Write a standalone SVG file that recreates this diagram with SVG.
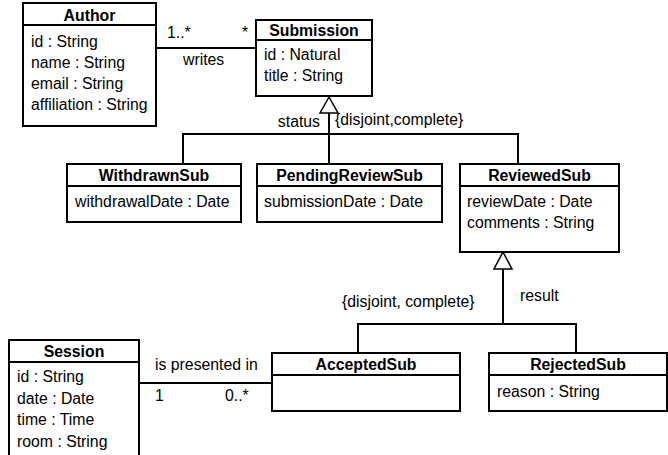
<svg xmlns="http://www.w3.org/2000/svg" width="668" height="455" viewBox="0 0 668 455">
<style>
.box{fill:#fff;stroke:#000;stroke-width:2}
.sep{stroke:#000;stroke-width:2}
.t{font-family:"Liberation Sans",Arial,sans-serif;font-size:15.8px;fill:#000}
.b{font-weight:bold;text-anchor:middle}
.ln{fill:none;stroke:#000;stroke-width:2}
.tri{fill:#fff;stroke:#000;stroke-width:1.5}
</style>
<rect width="668" height="455" fill="#fff"/>
<g id="connectors">
<line class="ln" x1="156" y1="48" x2="256" y2="48"/>
<text class="t" x="167" y="38">1..*</text>
<text class="t" x="242" y="38">*</text>
<text class="t" x="183" y="65">writes</text>
<polyline class="ln" points="183,164 183,134 518,134 518,164"/>
<line class="ln" x1="329" y1="112" x2="329" y2="164"/>
<polygon class="tri" points="329,97 320,113 338,113"/>
<text class="t" x="320" y="127" text-anchor="end">status</text>
<text class="t" x="335" y="125">{disjoint,complete}</text>
<polyline class="ln" points="358,353 358,324 576,324 576,353"/>
<line class="ln" x1="503" y1="268" x2="503" y2="324"/>
<polygon class="tri" points="503,252 494,269 512,269"/>
<text class="t" x="342" y="307">{disjoint, complete}</text>
<text class="t" x="520" y="301">result</text>
<line class="ln" x1="139" y1="383" x2="272" y2="383"/>
<text class="t" x="155" y="370">is presented in</text>
<text class="t" x="155" y="401">1</text>
<text class="t" x="225" y="401">0..*</text>
</g>
<g id="Author">
<rect class="box" x="23" y="3" width="133" height="123"/>
<line class="sep" x1="23" y1="25" x2="156" y2="25"/>
<text class="t b" x="89.5" y="21">Author</text>
<text class="t" x="31" y="47">id : String</text>
<text class="t" x="31" y="68">name : String</text>
<text class="t" x="31" y="89">email : String</text>
<text class="t" x="31" y="110">affiliation : String</text>
</g>
<g id="Submission">
<rect class="box" x="256" y="20" width="116" height="76"/>
<line class="sep" x1="256" y1="40" x2="372" y2="40"/>
<text class="t b" x="314" y="36">Submission</text>
<text class="t" x="264" y="60">id : Natural</text>
<text class="t" x="264" y="81">title : String</text>
</g>
<g id="WithdrawnSub">
<rect class="box" x="67" y="164" width="174" height="58"/>
<line class="sep" x1="67" y1="186" x2="241" y2="186"/>
<text class="t b" x="154" y="181">WithdrawnSub</text>
<text class="t" x="75" y="207">withdrawalDate : Date</text>
</g>
<g id="PendingReviewSub">
<rect class="box" x="257" y="164" width="185" height="58"/>
<line class="sep" x1="257" y1="186" x2="442" y2="186"/>
<text class="t b" x="349.5" y="181">PendingReviewSub</text>
<text class="t" x="264" y="207">submissionDate : Date</text>
</g>
<g id="ReviewedSub">
<rect class="box" x="460" y="164" width="159" height="88"/>
<line class="sep" x1="460" y1="186" x2="619" y2="186"/>
<text class="t b" x="539.5" y="181">ReviewedSub</text>
<text class="t" x="467" y="207">reviewDate : Date</text>
<text class="t" x="467" y="228">comments : String</text>
</g>
<g id="Session">
<rect class="box" x="9" y="340" width="130" height="116"/>
<line class="sep" x1="9" y1="362" x2="139" y2="362"/>
<text class="t b" x="74" y="357">Session</text>
<text class="t" x="17" y="382">id : String</text>
<text class="t" x="17" y="404">date : Date</text>
<text class="t" x="17" y="425">time : Time</text>
<text class="t" x="17" y="447">room : String</text>
</g>
<g id="AcceptedSub">
<rect class="box" x="272" y="353" width="188" height="58"/>
<line class="sep" x1="272" y1="375" x2="460" y2="375"/>
<text class="t b" x="366" y="370">AcceptedSub</text>
</g>
<g id="RejectedSub">
<rect class="box" x="489" y="353" width="178" height="58"/>
<line class="sep" x1="489" y1="375" x2="667" y2="375"/>
<text class="t b" x="578" y="370">RejectedSub</text>
<text class="t" x="497" y="397">reason : String</text>
</g>
</svg>
